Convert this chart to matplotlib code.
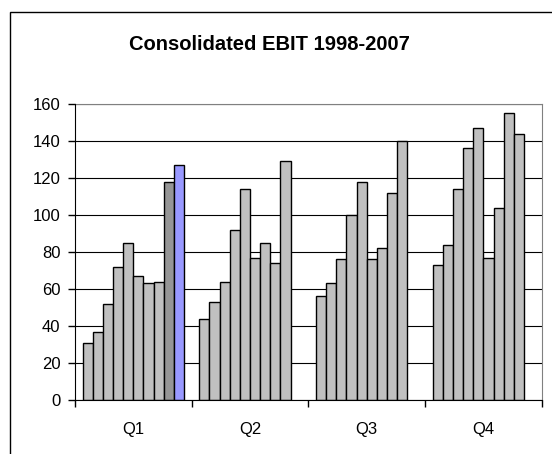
import numpy as np
import matplotlib
matplotlib.use('Agg')
import matplotlib.pyplot as plt
from matplotlib.patches import Rectangle

plt.rcParams['font.family'] = ['Liberation Sans', 'DejaVu Sans']

quarters = ['Q1', 'Q2', 'Q3', 'Q4']
years = [1998, 1999, 2000, 2001, 2002, 2003, 2004, 2005, 2006, 2007]
q1 = [31, 37, 52, 72, 85, 67, 63, 64, 118, 127]
q2 = [44, 53, 64, 92, 114, 77, 85, 74, 129, np.nan]
q3 = [56, 63, 76, 100, 118, 76, 82, 112, 140, np.nan]
q4 = [73, 84, 114, 136, 147, 77, 104, 155, 144, np.nan]
values = np.array([q1, q2, q3, q4])

fig = plt.figure(figsize=(5.52, 4.54), dpi=100)
fig.patches.append(Rectangle((10/552, -0.1), 1.2, (454-12)/454 + 0.1,
                             transform=fig.transFigure, fill=False,
                             edgecolor='black', lw=1))
ax = fig.add_axes([75/552, 54/454, 466.7/552, 296/454])

n = len(years)
bw = 1/11.5
for i in range(len(quarters)):
    for j in range(n):
        v = values[i, j]
        if np.isnan(v):
            continue
        c = '#C0C0C0'
        if i == 0 and j == n - 2:
            c = '#969696'
        if i == 0 and j == n - 1:
            c = '#9999FF'
        ax.bar(i + (0.75 + j)*bw, v, width=bw, align='edge', color=c,
               edgecolor='black', lw=1, zorder=3)

ax.set_xlim(0, 4)
ax.set_ylim(0, 160)
ax.set_yticks(np.arange(0, 161, 20))
ax.set_xticks([0, 1, 2, 3, 4])
ax.set_xticklabels([])
ax.set_xticks([0.5, 1.5, 2.5, 3.5], minor=True)
ax.set_xticklabels(quarters, minor=True)
ax.tick_params(axis='x', which='minor', length=0, pad=16, labelsize=12)
ax.tick_params(axis='x', which='major', length=5, width=1, direction='out')
ax.tick_params(axis='y', length=5, width=1, direction='out', pad=5.5, labelsize=12)
ax.yaxis.grid(True, color='black', lw=0.8, zorder=0)
ax.set_axisbelow(True)
for s in ['top', 'right']:
    ax.spines[s].set_color('#808080')
for s in ['left', 'bottom']:
    ax.spines[s].set_color('black')
    ax.spines[s].set_zorder(4)

fig.text(269/552, 1 - 45/454, 'Consolidated EBIT 1998-2007', ha='center',
         va='center', fontsize=14.5, fontweight='bold')

plt.savefig('out.png', dpi=100)
